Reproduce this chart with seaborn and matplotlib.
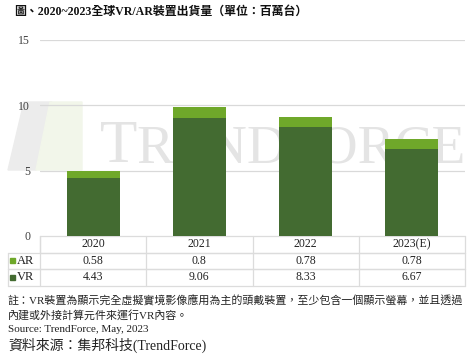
import matplotlib
matplotlib.use("Agg")
import matplotlib.pyplot as plt
import matplotlib.patches as mpatches
import seaborn as sns
import pandas as pd

# data
years = ["2020", "2021", "2022", "2023(E)"]
ar = [0.58, 0.8, 0.78, 0.78]
vr = [4.43, 9.06, 8.33, 6.67]
yticks = [0, 5, 10, 15]

title = "圖、2020~2023全球VR/AR裝置出貨量（單位：百萬台）"
note1 = "註：VR裝置為顯示完全虛擬實境影像應用為主的頭戴裝置，至少包含一個顯示螢幕，並且透過"
note2 = "內建或外接計算元件來運行VR內容。"
source_en = "Source: TrendForce, May, 2023"
source_zh = "資料來源：集邦科技(TrendForce)"

VR_COLOR = "#436b31"
AR_COLOR = "#6fa82a"
GRID = "#d9d9d9"

sns.set_style("white")
plt.rcParams["font.family"] = ["Liberation Serif", "Noto Sans CJK TC"]

df = pd.DataFrame({"year": years, "AR": ar, "VR": vr})
df["total"] = df["AR"] + df["VR"]

W, H = 474, 355
fig = plt.figure(figsize=(W / 100, H / 100), dpi=100)
x0, x1 = 40 / W, 465 / W
y_bot, y_top = 1 - 236 / H, 1 - 40 / H
ax = fig.add_axes([x0, y_bot, x1 - x0, y_top - y_bot])
ax.set_zorder(2)

# watermark (logo + word)
fig.patches.append(mpatches.Polygon([[8 / W, 1 - 170 / H], [24 / W, 1 - 102 / H], [52 / W, 1 - 102 / H],
                                     [36 / W, 1 - 170 / H]], closed=True, transform=fig.transFigure,
                                    color="#ececec", zorder=0))
fig.patches.append(mpatches.Polygon([[36 / W, 1 - 170 / H], [50 / W, 1 - 102 / H], [82 / W, 1 - 102 / H],
                                     [82 / W, 1 - 170 / H]], closed=True, transform=fig.transFigure,
                                    color="#f2f6ea", zorder=0))
wm1 = fig.text(100 / W, 1 - 162 / H, "T", fontsize=44, color="#e4e4e4", zorder=0,
               family="Liberation Serif")
wm2 = fig.text(136 / W, 1 - 162 / H, "RENDFORCE", fontsize=38, color="#e4e4e4", zorder=0,
               family="Liberation Serif")
r = fig.canvas.get_renderer()
w = wm2.get_window_extent(r).width
wm2.set_fontsize(38 * 329 / w)

ax.patch.set_alpha(0)
sns.barplot(data=df, x="year", y="total", color=AR_COLOR, width=0.5, ax=ax,
            saturation=1, linewidth=0, zorder=3)
sns.barplot(data=df, x="year", y="VR", color=VR_COLOR, width=0.5, ax=ax,
            saturation=1, linewidth=0, zorder=3)

ax.set_ylim(0, 15)
ax.set_xlim(-0.5, 3.5)
ax.set_yticks(yticks)
ax.set_yticklabels([str(t) for t in yticks], fontsize=8.5, color="#404040")
ax.set_xticks([])
ax.set_xlabel("")
ax.set_ylabel("")
for t in yticks[1:]:
    ax.axhline(t, color=GRID, lw=0.9, zorder=1)
for s in ax.spines.values():
    s.set_visible(False)
ax.tick_params(axis="y", length=0, pad=7)

# data table under the chart
BORDER = "#dcdcdc"
row_h = 16.5
top = 236
col_w = (465 - 40) / len(years)
rows = [("", years), ("AR", [str(v) for v in ar]), ("VR", [str(v) for v in vr])]
for i, (label, vals) in enumerate(rows):
    ya = 1 - (top + i * row_h) / H
    yb = 1 - (top + (i + 1) * row_h) / H
    left = 40 if i == 0 else 8
    fig.add_artist(plt.Line2D([left / W, 465 / W], [ya, ya], color=BORDER, lw=0.9))
    fig.add_artist(plt.Line2D([left / W, 465 / W], [yb, yb], color=BORDER, lw=0.9))
    fig.add_artist(plt.Line2D([left / W, left / W], [ya, yb], color=BORDER, lw=0.9))
    for c in range(len(years) + 1):
        xc = (40 + c * col_w) / W
        fig.add_artist(plt.Line2D([xc, xc], [ya, yb], color=BORDER, lw=0.9))
    ym = (ya + yb) / 2
    for c, v in enumerate(vals):
        fig.text((40 + (c + 0.5) * col_w) / W, ym, v, ha="center", va="center",
                 fontsize=8.5, color="#222222")
    if label:
        colr = AR_COLOR if label == "AR" else VR_COLOR
        fig.patches.append(mpatches.Rectangle((10 / W, ym - 2.5 / H), 5 / W, 5 / H,
                                              transform=fig.transFigure, color=colr))
        fig.text(17 / W, ym, label, ha="left", va="center", fontsize=9, color="#222222")

fig.text(14 / W, 1 - 12 / H, title, fontsize=8.6, fontweight="bold", va="center", color="#111111")
fig.text(8 / W, 1 - 301 / H, note1, fontsize=7.9, va="center", color="#222222")
fig.text(8 / W, 1 - 315 / H, note2, fontsize=7.9, va="center", color="#222222")
fig.text(8 / W, 1 - 329 / H, source_en, fontsize=8.0, va="center", color="#222222")
fig.text(8 / W, 1 - 345 / H, source_zh, fontsize=10.0, va="center", color="#222222")

fig.savefig("out.png", dpi=100)
